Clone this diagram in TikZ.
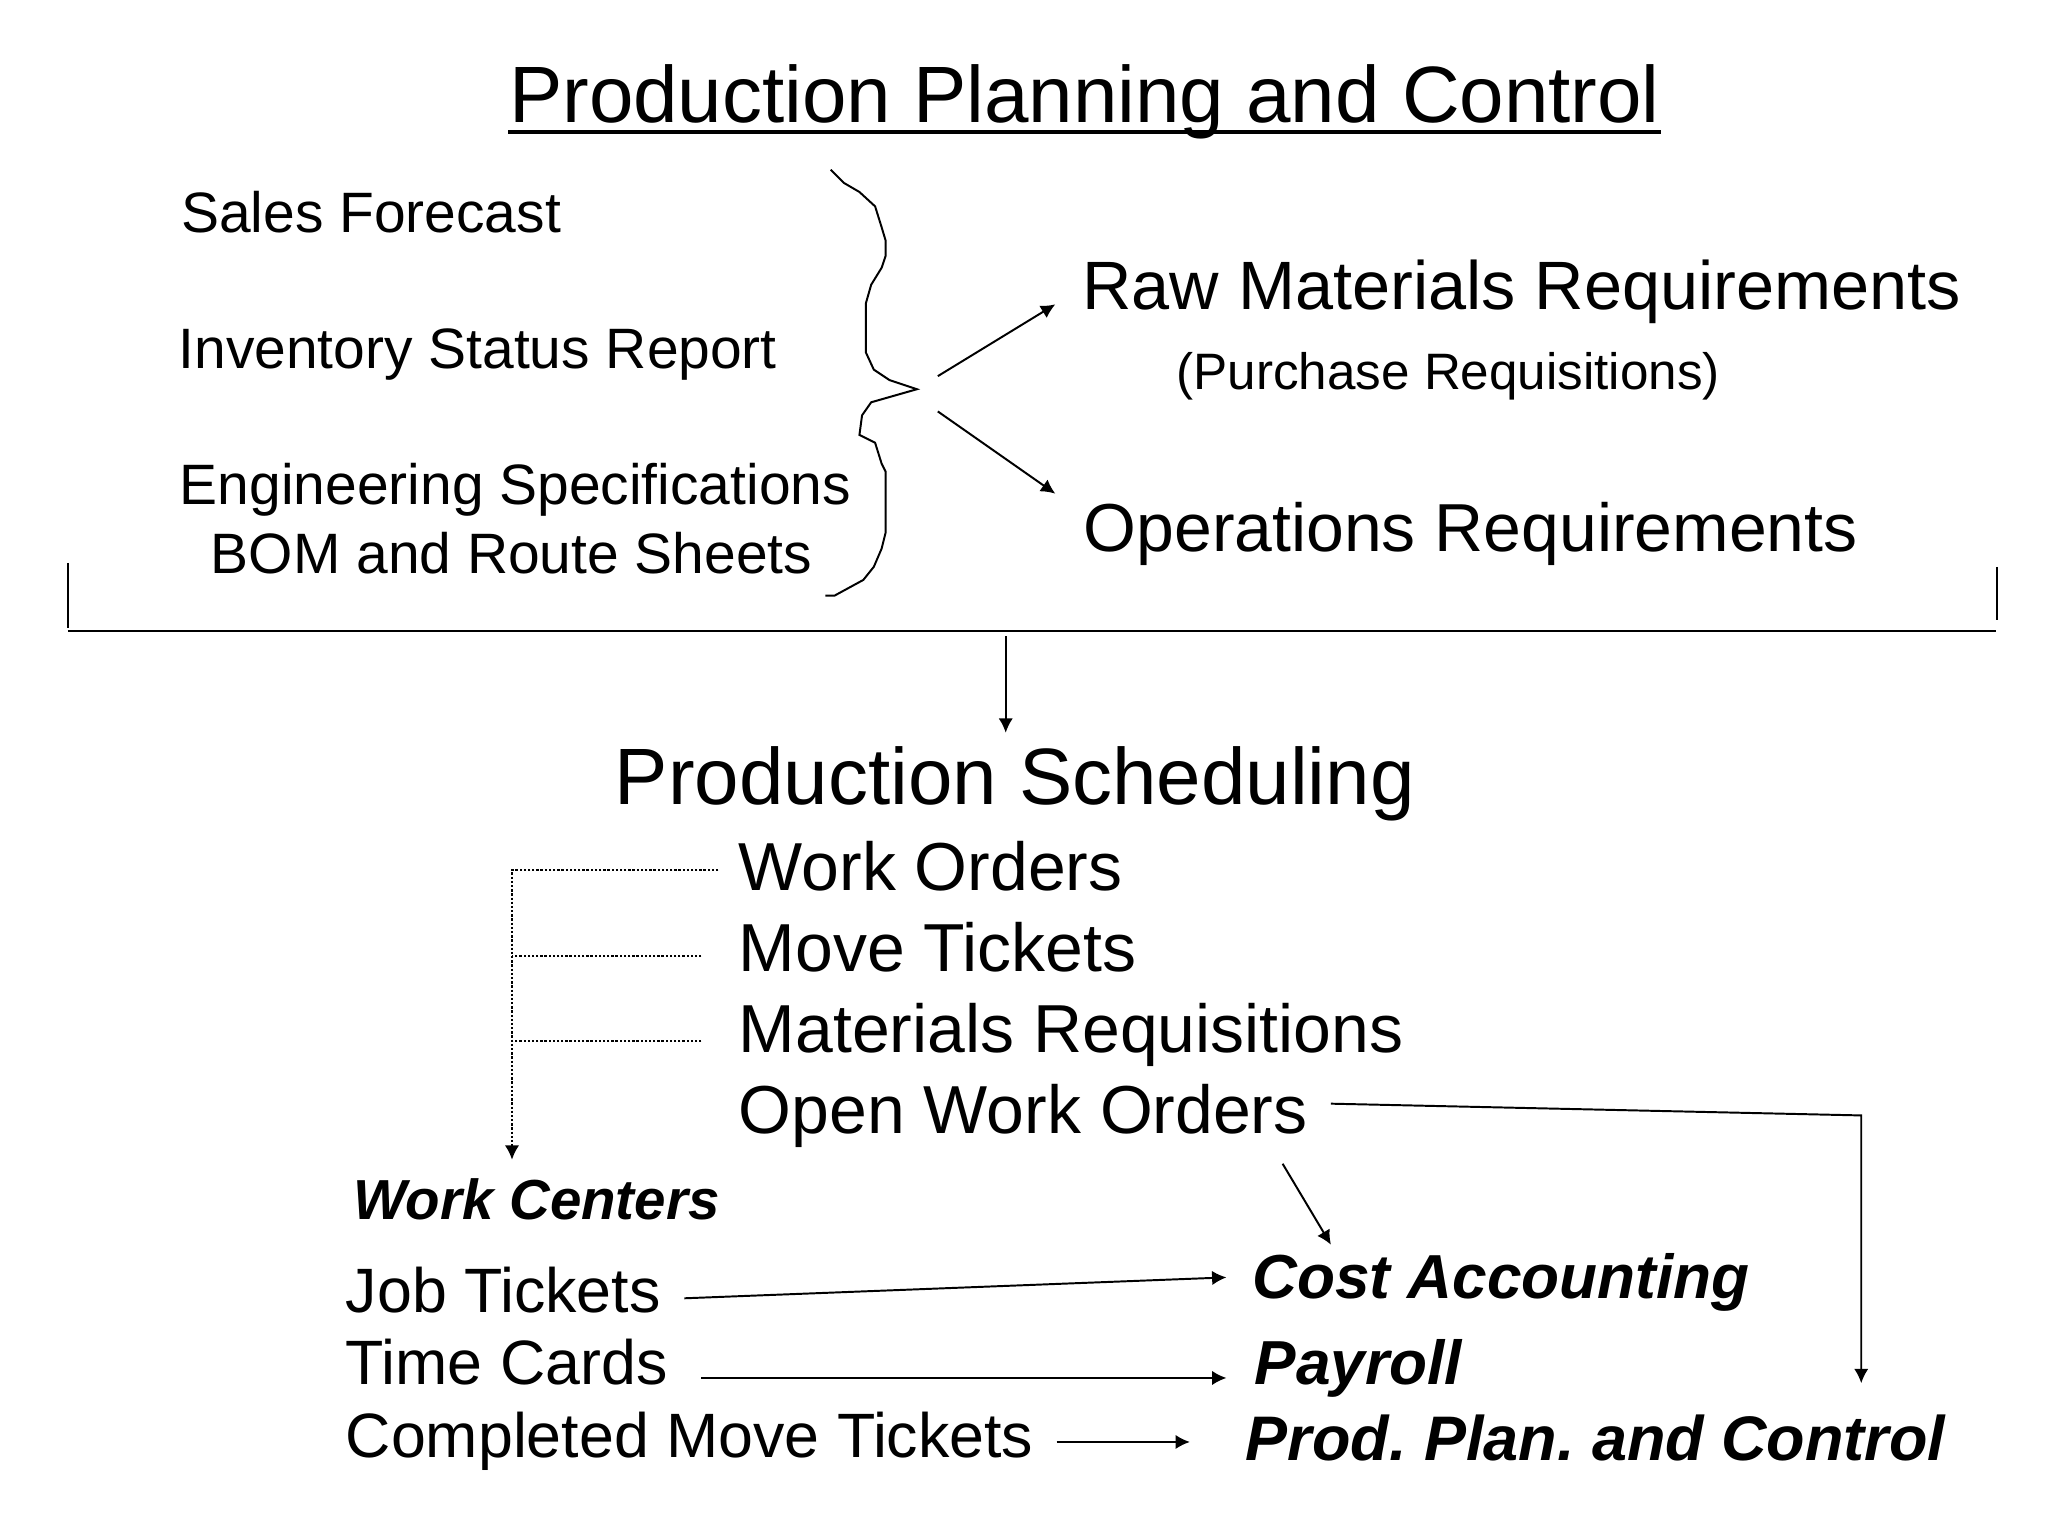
\documentclass[tikz,border=0pt]{standalone}
\usepackage{fontspec}
\setmainfont{Liberation Sans}
\usetikzlibrary{arrows.meta, positioning}
\newcommand{\fsz}[1]{\fontsize{#1}{#1}\selectfont}
\frenchspacing
\tikzset{
    txt/.style={inner sep=0pt, anchor=base west},
    arr/.style={line width=0.75pt, -{Latex[length=5.5pt, width=5.5pt]}},
    dot/.style={line width=1pt, dash pattern=on 0.9pt off 0.7pt},
    bi/.style={font=\bfseries\itshape\fsz{#1}},
}

\begin{document}
\begin{tikzpicture}[x=0.5pt, y=-0.5pt, line width=0.75pt]
        \useasboundingbox (0,0) rectangle (1568,1176);
        \node[txt, font=\fsz{30.6pt}] (title) at (389,94) {Production Planning and Control};
        \draw[line width=1.6pt] ([yshift=-3.5pt]title.base west) -- ([yshift=-3.5pt]title.base east);

        \node[txt, font=\fsz{21.8pt}] (sf) at (138,178) {Sales Forecast};
        \node[txt, font=\fsz{21.8pt}] (isr) at (136,282) {Inventory Status Report};
        \node[txt, font=\fsz{21.8pt}] (es) at (137,386) {Engineering Specifications};
        \node[below=26.5pt of es.base, inner sep=0pt, anchor=base, xshift=-1.5pt, font=\fsz{21.8pt}] (bom) {BOM and Route Sheets};

        \draw (636,130) -- (646,140) -- (658,147) -- (670,158) -- (675,174) -- (678,184) -- (678,196)
            -- (675,205) -- (667,218) -- (663,232) -- (663,270) -- (669,283) -- (681,291)
            -- (702,298) coordinate (tip) -- (667,308) -- (660,318) -- (658,333) -- (670,339)
            -- (675,355) -- (678,361) -- (678,408) -- (675,420) -- (669,434) -- (661,444)
            -- (650,450) -- (639,456) -- (632,456);

        \node[txt, font=\fsz{26.2pt}] (raw) at (828,237) {Raw Materials Requirements};
        \node[txt, font=\fsz{19.6pt}] (pr) at (900,298) {(Purchase Requisitions)};
        \node[txt, font=\fsz{26pt}] (opr) at (829,422) {Operations Requirements};

        \coordinate (bu) at (718,288);
        \coordinate (bd) at (718,315);
        \coordinate (ru) at (808,233);
        \coordinate (rd) at (808,378);
        \draw[arr] (bu) -- (ru);
        \draw[arr] (bd) -- (rd);

        \coordinate (bl) at (52,483);
        \coordinate (br) at (1528,483);
        \draw (52,431) -- (52,481);
        \draw (bl) -- (br);
        \draw (1529,434) -- (1529,475);

        \node[txt, font=\fsz{30.6pt}] (ps) at (470,616) {Production Scheduling};
        \draw[arr] (770,487) -- (770,561);

        \node[txt, font=\fsz{26pt}] (wo) at (565,682) {Work Orders};
        \node[below=31pt of wo.base west, txt, font=\fsz{26pt}] (mt) {Move Tickets};
        \node[below=31pt of mt.base west, txt, font=\fsz{26pt}] (mr) {Materials Requisitions};
        \node[below=31pt of mr.base west, txt, font=\fsz{26pt}] (owo) {Open Work Orders};

        \coordinate (d1) at (550,666);
        \coordinate (d2) at (537,732);
        \coordinate (d3) at (537,797);
        \coordinate (dw) at (392,888);
        \draw[dot, -{Latex[length=5.5pt, width=5.5pt]}] (d1) -| (dw);
        \draw[dot] (d2) -- (392,732);
        \draw[dot] (d3) -- (392,797);

        \node[txt, bi=21.6pt] (wc) at (270,934) {Work Centers};
        \node[txt, font=\fsz{24pt}] (jt) at (264,1005) {Job Tickets};
        \node[txt, font=\fsz{24pt}] (tc) at (264,1060) {Time Cards};
        \node[txt, font=\fsz{24pt}] (cmt) at (264,1116) {Completed Move Tickets};

        \node[txt, bi=23.8pt] (ca) at (958,994) {Cost Accounting};
        \node[txt, bi=23.8pt] (pay) at (960,1060) {Payroll};
        \node[txt, bi=24.1pt] (ppc) at (953,1118) {Prod. Plan. and Control};

        \coordinate (jt-e) at (524,994);
        \coordinate (ca-w) at (939,978);
        \coordinate (tc-e) at (537,1055);
        \coordinate (pay-w) at (939,1055);
        \coordinate (cmt-e) at (809,1104);
        \coordinate (ppc-w) at (911,1104);
        \coordinate (owo-s) at (982,891);
        \coordinate (ca-n) at (1019,953);
        \coordinate (owo-e) at (1019,845);
        \coordinate (ppc-n) at (1425,1059);
        \draw[arr] (jt-e) -- (ca-w);
        \draw[arr] (tc-e) -- (pay-w);
        \draw[arr] (cmt-e) -- (ppc-w);
        \draw[arr] (owo-s) -- (ca-n);
        \draw[arr] (owo-e) -- (1425,854) -- (ppc-n);
\end{tikzpicture}
\end{document}
